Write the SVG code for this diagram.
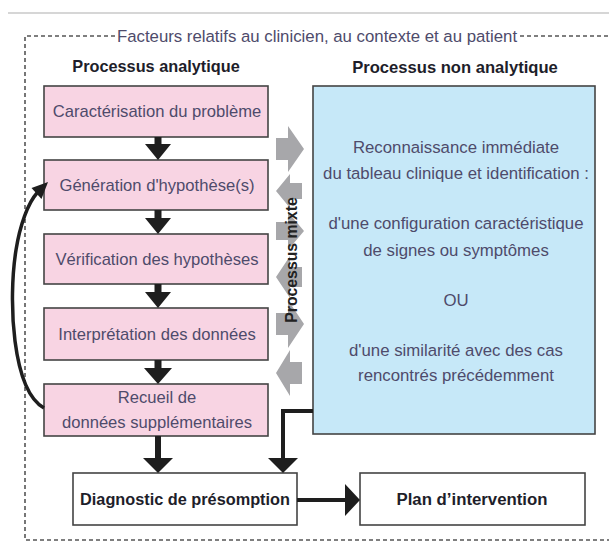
<svg xmlns="http://www.w3.org/2000/svg" width="609" height="545" viewBox="0 0 609 545">
<defs>
<style>
.t{font-family:"Liberation Sans",Arial,sans-serif;font-size:16.6px;fill:#4e4b6b;text-anchor:middle}
.b{font-family:"Liberation Sans",Arial,sans-serif;font-size:16.3px;font-weight:bold;fill:#1e1e2a;text-anchor:middle}
.pink{fill:#f8d4e3;stroke:#444;stroke-width:1.6}
.blue{fill:#c6e8f8;stroke:#444;stroke-width:1.6}
.white{fill:#fff;stroke:#444;stroke-width:1.6}
.dash{fill:none;stroke:#555;stroke-width:1.6;stroke-dasharray:4 3}
.line{fill:none;stroke:#1e1e1e;stroke-width:4}
.head{fill:#1e1e1e}
.gray{fill:#a7a7aa}
</style>
</defs>
<rect width="609" height="545" fill="#fff"/>
<line x1="8" y1="13" x2="609" y2="13" stroke="#c9c9c9" stroke-width="1.5"/>
<g id="frame">
<path class="dash" d="M115,36 H25 V540 H609"/>
<path class="dash" d="M520,36 H609"/>
<text class="t" x="317" y="42" style="font-size:16.8px">Facteurs relatifs au clinicien, au contexte et au patient</text>
</g>
<text class="b" x="156" y="72">Processus analytique</text>
<text class="b" x="455" y="73" style="font-size:16.6px">Processus non analytique</text>
<g id="mixte">
<polygon class="gray" points="276,138 288,138 288,126 304,149 288,172 288,160 276,160"/>
<polygon class="gray" points="302,183 290,183 290,174 276,191 290,208 290,199 302,199"/>
<polygon class="gray" points="276,222 288,222 288,212 304,231 288,250 288,240 276,240"/>
<polygon class="gray" points="302,267 290,267 290,256 276,277 290,298 290,287 302,287"/>
<polygon class="gray" points="276,313 288,313 288,300 304,324 288,348 288,335 276,335"/>
<polygon class="gray" points="302,362 290,362 290,350 276,373 290,396 290,384 302,384"/>
<text class="b" transform="translate(297,260) rotate(-90)" style="font-size:15.8px;fill:#222">Processus mixte</text>
</g>
<g id="n1"><rect class="pink" x="44" y="86" width="224" height="51"/><text class="t" x="157" y="117">Caractérisation du problème</text></g>
<g id="n2"><rect class="pink" x="44" y="160" width="224" height="50"/><text class="t" x="157" y="191">Génération d'hypothèse(s)</text></g>
<g id="n3"><rect class="pink" x="44" y="234" width="224" height="50"/><text class="t" x="157" y="265">Vérification des hypothèses</text></g>
<g id="n4"><rect class="pink" x="44" y="308" width="224" height="52"/><text class="t" x="157" y="340">Interprétation des données</text></g>
<g id="n5"><rect class="pink" x="44" y="384" width="224" height="52"/><text class="t" x="157" y="403">Recueil de</text><text class="t" x="157" y="428">données supplémentaires</text></g>
<g id="n6"><rect class="blue" x="313" y="86" width="282" height="348"/>
<g class="t" style="font-size:16.8px">
<text x="456" y="153">Reconnaissance immédiate</text>
<text x="456" y="179">du tableau clinique et identification :</text>
<text x="456" y="229">d'une configuration caractéristique</text>
<text x="456" y="256">de signes ou symptômes</text>
<text x="456" y="306">OU</text>
<text x="456" y="356">d'une similarité avec des cas</text>
<text x="456" y="381">rencontrés précédemment</text>
</g></g>
<g id="n7"><rect class="white" x="73" y="473" width="224" height="52"/><text class="b" x="185" y="505">Diagnostic de présomption</text></g>
<g id="n8"><rect class="white" x="360" y="473" width="225" height="52"/><text class="b" x="472" y="505" style="font-size:16.8px">Plan d’intervention</text></g>
<g id="connectors">
<path class="line" d="M158,137 V146" style="stroke-width:7"/><polygon class="head" points="145,144 171,144 158,160"/>
<path class="line" d="M158,210 V220" style="stroke-width:7"/><polygon class="head" points="145,218 171,218 158,234"/>
<path class="line" d="M158,284 V294" style="stroke-width:7"/><polygon class="head" points="145,292 171,292 158,308"/>
<path class="line" d="M158,360 V370" style="stroke-width:7"/><polygon class="head" points="144,368 172,368 158,384"/>
<path class="line" d="M158,436 V460" style="stroke-width:6"/><polygon class="head" points="143,458 173,458 158,473"/>
<path class="line" d="M313,411 H283 V460"/><polygon class="head" points="268,458 298,458 283,473"/>
<path class="line" d="M297,500 H347"/><polygon class="head" points="345,484 345,516 360,500"/>
<path class="line" d="M44,408 C12,390 8,300 16,250 C20,225 28,203 37,193" style="stroke-width:3.5"/>
<polygon class="head" points="48,182 41.5,199 31.5,188"/>
</g>
</svg>
